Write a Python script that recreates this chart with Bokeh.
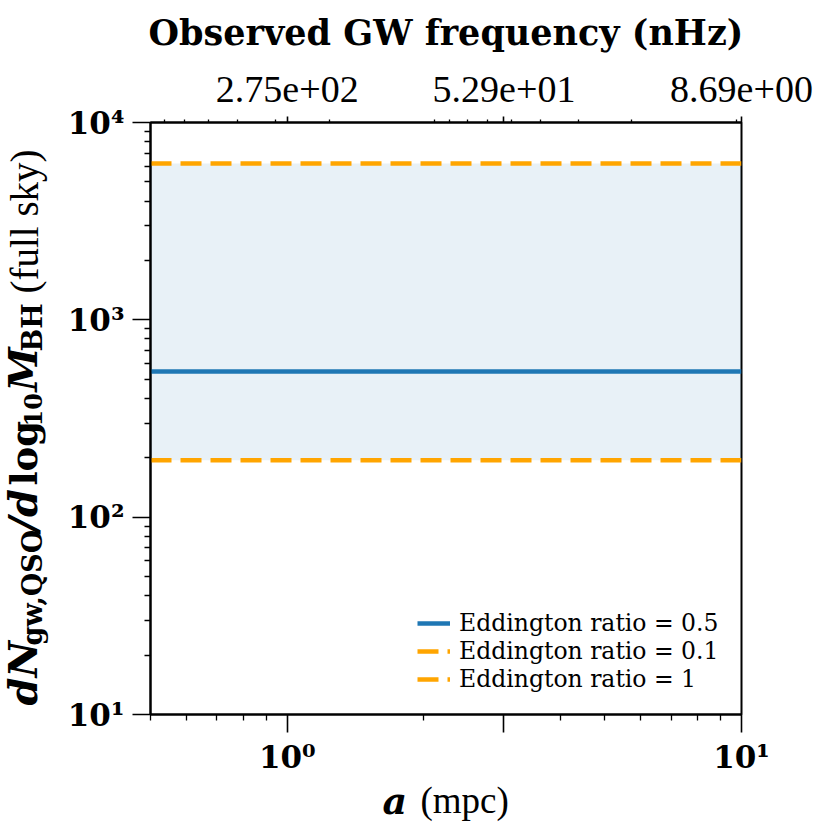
import math
from bokeh.plotting import figure
from bokeh.layouts import row, column
from bokeh.models import LogAxis, FixedTicker, Label, Legend, LegendItem, Range1d
from bokeh.embed import file_html
from bokeh.resources import INLINE

# ---- data ----
a_mpc = [0.5, 10.0]                 # separation a (mpc)
n_edd_05 = [547.0, 547.0]           # Eddington ratio = 0.5
n_edd_01 = [6200.0, 6200.0]         # Eddington ratio = 0.1
n_edd_1 = [194.0, 194.0]            # Eddington ratio = 1

series_labels = ["Eddington ratio = 0.5", "Eddington ratio = 0.1", "Eddington ratio = 1"]

x_major_ticks = [1, 3, 10]
x_major_labels = {1: "10⁰", 3: "", 10: "10¹"}
x_minor_ticks = [0.5, 0.6, 0.7, 0.8, 0.9, 2, 4, 5, 6, 7, 8, 9]

y_major_ticks = [10, 100, 1000, 10000]
y_major_labels = {10: "10¹", 100: "10²", 1000: "10³", 10000: "10⁴"}
y_minor_ticks = [20, 30, 40, 50, 60, 70, 80, 90,
                 200, 300, 400, 500, 600, 700, 800, 900,
                 2000, 3000, 4000, 5000, 6000, 7000, 8000, 9000]

f_ref_nhz = 275.0                   # observed GW frequency at a = 1 mpc
top_major_ticks = [1, 3, 10]
top_major_labels = {1: "2.75e+02", 3: "5.29e+01", 10: "8.69e+00"}
top_minor_freqs = [700, 600, 500, 400, 300, 200, 90, 80, 70, 60, 50, 40, 30, 20, 9]
top_minor_ticks = [(f_ref_nhz / f) ** (2.0 / 3.0) for f in top_minor_freqs]

SERIF = "Liberation Serif"
BOLD_SERIF = "DejaVu Serif"

YT_W = 64          # width of the strip that carries the y-axis title
MAIN_W, MAIN_H = 750, 777
XT_H = 47          # height of the strip that carries the x-axis title
FRAME_TOP, FRAME_BOTTOM = 122, 716

p = figure(width=MAIN_W, height=MAIN_H, x_axis_type="log", y_axis_type="log",
           x_range=(0.5, 10), y_range=(10, 1e4),
           output_backend="svg", toolbar_location=None,
           min_border_left=150 - YT_W, min_border_right=73,
           min_border_top=FRAME_TOP, min_border_bottom=MAIN_H - FRAME_BOTTOM,
           background_fill_color="white", border_fill_color="white")
p.grid.visible = False
p.outline_line_color = "black"
p.outline_line_width = 2
p.outline_line_alpha = 1.0

p.varea(x=a_mpc, y1=n_edd_1, y2=n_edd_01, fill_color="#1f77b4", fill_alpha=0.1)
r05 = p.line(a_mpc, n_edd_05, line_color="#1f77b4", line_width=4.5)
r01 = p.line(a_mpc, n_edd_01, line_color="orange", line_width=4.5, line_dash="21 9")
r1 = p.line(a_mpc, n_edd_1, line_color="orange", line_width=4.5, line_dash="21 9")

def style_axis(ax, major_out, minor_out, font, size, style, standoff):
    ax.axis_line_color = "black"
    ax.axis_line_width = 2
    ax.major_tick_line_color = "black"
    ax.major_tick_line_width = 1.6
    ax.minor_tick_line_color = "black"
    ax.minor_tick_line_width = 1.3
    ax.major_tick_in = 0
    ax.major_tick_out = major_out
    ax.minor_tick_in = 0
    ax.minor_tick_out = minor_out
    ax.major_label_text_font = font
    ax.major_label_text_font_size = size
    ax.major_label_text_font_style = style
    ax.major_label_text_color = "black"
    ax.major_label_standoff = standoff

xa = p.xaxis[0]
xa.ticker = FixedTicker(ticks=x_major_ticks, minor_ticks=x_minor_ticks)
xa.major_label_overrides = x_major_labels
style_axis(xa, 18, 6, BOLD_SERIF, "31px", "bold", 6)

ya = p.yaxis[0]
ya.ticker = FixedTicker(ticks=y_major_ticks, minor_ticks=y_minor_ticks)
ya.major_label_overrides = y_major_labels
style_axis(ya, 18, 6, BOLD_SERIF, "31px", "bold", 8)

top = LogAxis(ticker=FixedTicker(ticks=top_major_ticks, minor_ticks=top_minor_ticks),
              major_label_overrides=top_major_labels,
              axis_label="Observed GW frequency (nHz)")
style_axis(top, 6, 3, SERIF, "38px", "normal", 15)
top.axis_label_text_font = BOLD_SERIF
top.axis_label_text_font_size = "35px"
top.axis_label_text_font_style = "bold"
top.axis_label_text_color = "black"
top.axis_label_standoff = 21
p.add_layout(top, "above")

# one legend per row so that the row pitch follows the reference
legend_rows = [(r05, 77), (r01, 49), (r1, 21)]
for (rend, vy), text in zip(legend_rows, series_labels):
    lg = Legend(items=[LegendItem(label=text, renderers=[rend])], location=(267, vy))
    lg.label_text_font = BOLD_SERIF
    lg.label_text_font_style = "normal"
    lg.label_text_font_size = "23.5px"
    lg.label_text_color = "black"
    lg.glyph_width = 33
    lg.glyph_height = 26
    lg.label_height = 26
    lg.padding = 0
    lg.margin = 0
    lg.label_standoff = 9
    lg.border_line_alpha = 0
    lg.background_fill_alpha = 0
    p.add_layout(lg)

# ---- strips that hold the multi-style axis titles ----
def strip(w, h, top_border=0, bottom_border=0):
    f = figure(width=w, height=h, x_axis_location=None, y_axis_location=None,
               x_range=Range1d(0, 1), y_range=Range1d(0, 1),
               output_backend="svg", toolbar_location=None, min_border=0,
               min_border_top=top_border, min_border_bottom=bottom_border,
               background_fill_color="white", border_fill_color="white")
    f.grid.visible = False
    f.outline_line_color = None
    return f

MID = 0.34   # distance from the middle of a text line to its baseline, in em

def piece(fig, text, sx, sy, size_px, style, font, angle=0.0):
    fig.add_layout(Label(x=sx, y=sy, x_units="screen", y_units="screen", text=text,
                         angle=angle, text_font=font, text_font_size=f"{size_px}px",
                         text_font_style=style, text_color="black",
                         text_align="left", text_baseline="middle"))

VERT = math.pi / 2
yt = strip(YT_W, MAIN_H, FRAME_TOP, MAIN_H - FRAME_BOTTOM)
# (text, baseline x, start y from the top of the picture, size px, style, font)
y_title_pieces = [
    ("dN", 36, 707, 40, "bold italic", BOLD_SERIF),
    ("gw,QSO", 41, 647, 27, "bold", BOLD_SERIF),
    ("/d", 36, 533, 40, "bold italic", BOLD_SERIF),
    ("log", 36, 487, 37, "bold", BOLD_SERIF),
    ("10", 41, 428, 24, "bold", BOLD_SERIF),
    ("M", 36, 393, 40, "bold italic", BOLD_SERIF),
    ("BH", 41, 353, 27, "bold", BOLD_SERIF),
    ("(full sky)", 37, 295, 39, "normal", SERIF),
]
for text, bx, start_y, size, style, font in y_title_pieces:
    piece(yt, text, bx - MID * size, FRAME_BOTTOM - start_y, size, style, font, VERT)

xt = strip(YT_W + MAIN_W, XT_H)
x_title_pieces = [
    ("a", 382, 813, 38, "bold italic", BOLD_SERIF),
    ("(mpc)", 420, 813, 37, "normal", SERIF),
]
for text, lx, base_y, size, style, font in x_title_pieces:
    piece(xt, text, lx, MAIN_H + XT_H - (base_y - MID * size), size, style, font)

layout = column(row(yt, p), xt)
open("out.html", "w").write(file_html(layout, INLINE))
